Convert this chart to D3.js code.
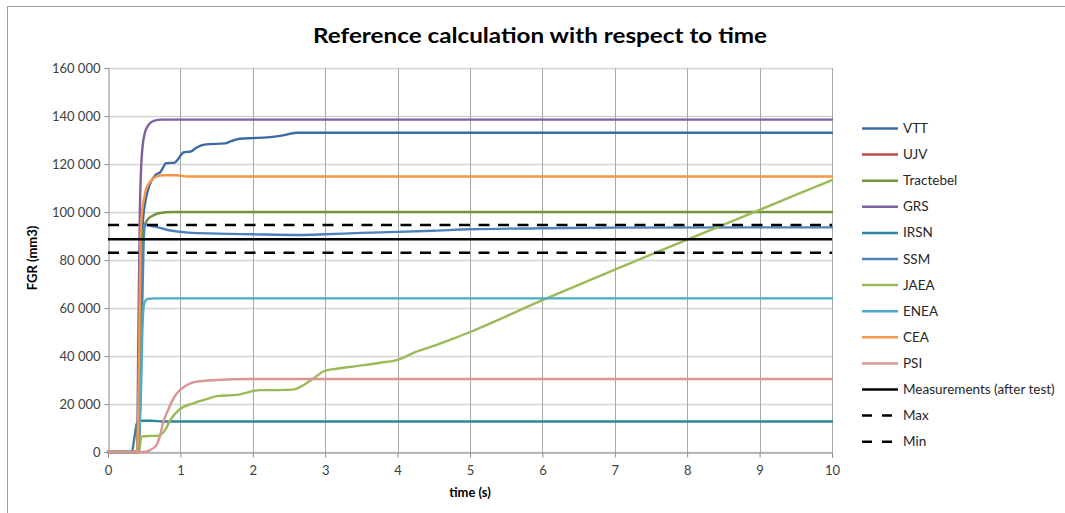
<!DOCTYPE html>
<html>
<head>
<meta charset="utf-8">
<script src="https://cdn.jsdelivr.net/npm/d3@7"></script>
<style>
  html, body { margin: 0; padding: 0; background: #fff; }
  svg { display: block; font-family: Lato, "Open Sans", "DejaVu Sans", sans-serif; }
</style>
</head>
<body>
<svg id="chart" width="1065" height="513"></svg>
<script>
// Fission gas release (FGR, mm3) against time (s) for each participant
const seriesNames = ["VTT", "UJV", "Tractebel", "GRS", "IRSN", "SSM", "JAEA", "ENEA", "CEA", "PSI"];
const seriesColors = ["#3c6aa5", "#be4b48", "#77933c", "#7d60a0", "#31859c", "#4f81bd", "#9bbb59", "#4bacc6", "#f79646", "#d99694"];

const VTT = [[0,0],[0.42,0],[0.44,30000],[0.46,70000],[0.48,95000],[0.52,105000],[0.56,110000],[0.6,113000],[0.66,115500],[0.72,116500],[0.76,118500],[0.8,120300],[0.92,120600],[0.98,122500],[1.04,124800],[1.15,125300],[1.22,126800],[1.35,128200],[1.62,128600],[1.7,129500],[1.82,130500],[2.0,130800],[2.2,131100],[2.4,131800],[2.6,133000],[10,133000]];
const UJV = [];
const Tractebel = [[0,0],[0.42,0],[0.45,60000],[0.48,90000],[0.5,94000],[0.55,97000],[0.62,98500],[0.7,99500],[0.9,100000],[10,100000]];
const GRS = [[0,0],[0.40,0],[0.42,50000],[0.44,100000],[0.46,120000],[0.48,128000],[0.51,133000],[0.56,136300],[0.63,138000],[0.75,138500],[10,138500]];
const IRSN = [[0,0],[0.33,0],[0.36,5000],[0.4,12000],[0.45,13000],[0.6,13000],[0.75,12700],[10,12700]];
const SSM = [[0,0],[0.42,0],[0.46,40000],[0.49,85000],[0.51,95000],[0.55,94500],[0.65,93900],[0.88,92200],[1.11,91400],[1.5,91000],[2.0,90700],[2.65,90400],[3.0,90700],[3.5,91300],[4.0,91700],[4.5,92200],[5.0,92800],[6.0,93200],[7,93500],[10,93600]];
const JAEA = [[0,0],[0.43,0],[0.46,6500],[0.6,6700],[0.7,6800],[0.79,9200],[0.86,13300],[0.99,17800],[1.18,20300],[1.36,22000],[1.5,23300],[1.78,23800],[2.1,25800],[2.33,25800],[2.55,26000],[2.65,27000],[2.84,30700],[3.0,33900],[3.16,34700],[3.43,35800],[3.76,37200],[3.99,38300],[4.26,41800],[4.54,44600],[4.72,46700],[5,50000],[6,63300],[7,76000],[8,88500],[9,100900],[10,113300]];
const ENEA = [[0,0],[0.4,0],[0.45,20000],[0.48,55000],[0.5,62000],[0.55,63800],[0.65,64000],[10,64000]];
const CEA = [[0,0],[0.40,0],[0.43,40000],[0.45,90000],[0.47,100000],[0.5,106000],[0.52,109000],[0.57,112000],[0.62,114000],[0.75,115300],[0.95,115300],[1.1,114800],[10,114800]];
const PSI = [[0,0],[0.5,0],[0.58,800],[0.67,2900],[0.72,7000],[0.76,12000],[0.83,17500],[0.89,21500],[0.95,24400],[1.02,26500],[1.09,27900],[1.22,29300],[1.5,30000],[1.96,30400],[10,30400]];

// Post-test measurement and its uncertainty band
const refNames = ["Measurements (after test)", "Max", "Min"];
const refValues = [88600, 94600, 83000];

const xTicks = [0, 1, 2, 3, 4, 5, 6, 7, 8, 9, 10];
const yTicks = [0, 20000, 40000, 60000, 80000, 100000, 120000, 140000, 160000];

const seriesData = [VTT, UJV, Tractebel, GRS, IRSN, SSM, JAEA, ENEA, CEA, PSI];

const svg = d3.select("#chart");
const plot = { left: 108, right: 832, top: 68, bottom: 452 };

const x = d3.scaleLinear().domain([0, 10]).range([plot.left, plot.right]);
const y = d3.scaleLinear().domain([0, 160000]).range([plot.bottom, plot.top]);

// outer chart frame
svg.append("rect")
  .attr("x", 7.5).attr("y", 6.5).attr("width", 1200).attr("height", 700)
  .attr("fill", "#fff").attr("stroke", "#a0a0a0").attr("stroke-width", 1);

// title
svg.append("text")
  .attr("x", 540).attr("y", 43)
  .attr("text-anchor", "middle")
  .attr("font-size", 21).attr("font-weight", "bold").attr("fill", "#000")
  .attr("textLength", 454).attr("lengthAdjust", "spacingAndGlyphs")
  .text("Reference calculation with respect to time");

// gridlines
const grid = svg.append("g");
grid.selectAll("line.h").data(yTicks).enter().append("line")
  .attr("x1", plot.left).attr("x2", plot.right)
  .attr("y1", d => Math.round(y(d)) + 0.5).attr("y2", d => Math.round(y(d)) + 0.5)
  .attr("stroke", "#d4d4d4").attr("stroke-width", 1.5);
grid.selectAll("line.v").data(xTicks.slice(1)).enter().append("line")
  .attr("x1", d => Math.round(x(d)) + 0.5).attr("x2", d => Math.round(x(d)) + 0.5)
  .attr("y1", plot.top).attr("y2", plot.bottom)
  .attr("stroke", "#a8a8a8").attr("stroke-width", 1);

// axes
const yAxis = d3.axisLeft(y).tickValues(yTicks).tickSize(4).tickPadding(4)
  .tickFormat(d => d3.format(",")(d).replace(/,/g, " "));
const gy = svg.append("g").attr("transform", `translate(${plot.left + 0.5},0)`).call(yAxis);
gy.select(".domain").attr("stroke", "#8c8c8c");
gy.selectAll(".tick line").attr("stroke", "#8c8c8c");
gy.selectAll(".tick text").attr("font-size", 13).attr("fill", "#404040").attr("font-family", "Lato, sans-serif");

const xAxis = d3.axisBottom(x).tickValues(xTicks).tickSize(5).tickPadding(8).tickFormat(d3.format("d"));
const gx = svg.append("g").attr("transform", `translate(0,${plot.bottom + 0.5})`).call(xAxis);
gx.select(".domain").attr("stroke", "#8c8c8c");
gx.selectAll(".tick line").attr("stroke", "#8c8c8c");
gx.selectAll(".tick text").attr("font-size", 13).attr("fill", "#404040").attr("font-family", "Lato, sans-serif");

// axis titles
svg.append("text")
  .attr("transform", "translate(37,258) rotate(-90)")
  .attr("text-anchor", "middle").attr("font-size", 13).attr("font-weight", "bold").attr("fill", "#000")
  .text("FGR (mm3)");
svg.append("text")
  .attr("x", 470).attr("y", 497)
  .attr("text-anchor", "middle").attr("font-size", 13).attr("font-weight", "bold").attr("fill", "#000")
  .text("time (s)");

// calculation curves
const line = d3.line().x(d => x(d[0])).y(d => y(d[1])).curve(d3.curveMonotoneX);
const curves = svg.append("g").attr("fill", "none").attr("stroke-linejoin", "round").attr("stroke-linecap", "round");
seriesData.forEach((data, i) => {
  if (!data.length) return;
  curves.append("path").datum(data)
    .attr("d", line)
    .attr("stroke", seriesColors[i]).attr("stroke-width", 2.4);
});

// measurement and bounds
const refDash = [null, "11,8.5", "11,8.5"];
refValues.forEach((v, i) => {
  svg.append("line")
    .attr("x1", x(0)).attr("x2", x(10))
    .attr("y1", y(v)).attr("y2", y(v))
    .attr("stroke", "#000").attr("stroke-width", 2.5)
    .attr("stroke-dasharray", refDash[i]);
});

// legend
const legendItems = seriesNames.map((n, i) => ({ name: n, color: seriesColors[i], dash: null }))
  .concat(refNames.map((n, i) => ({ name: n, color: "#000", dash: i === 0 ? null : "10,10" })));
const lg = svg.append("g");
legendItems.forEach((d, i) => {
  const yy = 128.5 + i * 26.1;
  lg.append("line")
    .attr("x1", 862).attr("x2", 898).attr("y1", yy).attr("y2", yy)
    .attr("stroke", d.color).attr("stroke-width", 2.5)
    .attr("stroke-dasharray", d.dash);
  lg.append("text")
    .attr("x", 903).attr("y", yy + 4.5)
    .attr("font-size", 13.5).attr("fill", "#262626")
    .text(d.name);
});
</script>
</body>
</html>
